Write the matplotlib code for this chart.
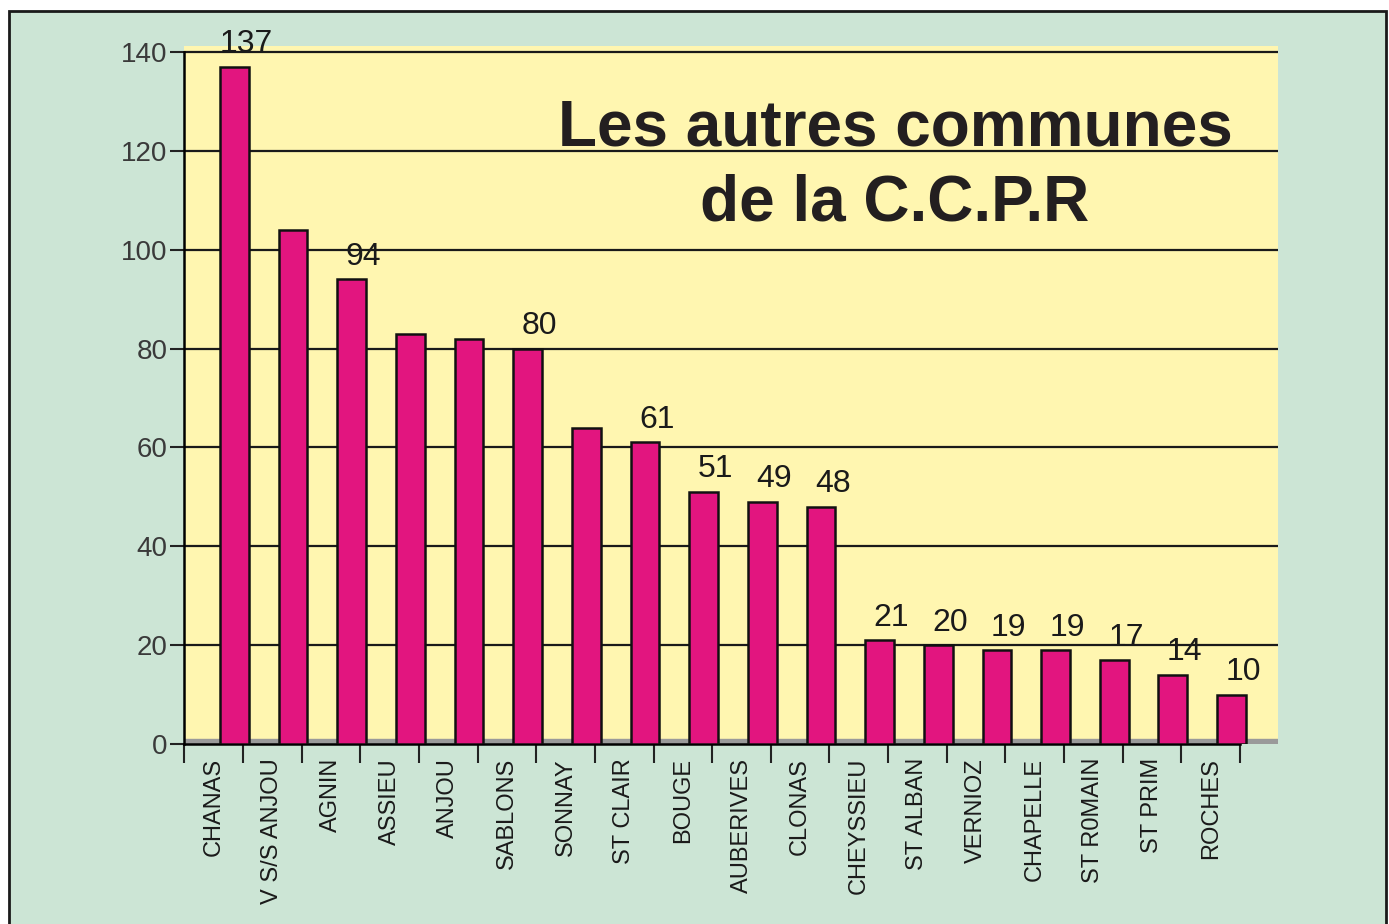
import matplotlib
matplotlib.use("Agg")
import matplotlib.pyplot as plt
from matplotlib.patches import Rectangle

communes = ["CHANAS", "V S/S ANJOU", "AGNIN", "ASSIEU", "ANJOU", "SABLONS",
            "SONNAY", "ST CLAIR", "BOUGE", "AUBERIVES", "CLONAS", "CHEYSSIEU",
            "ST ALBAN", "VERNIOZ", "CHAPELLE", "ST R0MAIN", "ST PRIM", "ROCHES"]
values = [137, 104, 94, 83, 82, 80, 64, 61, 51, 49, 48, 21, 20, 19, 19, 17, 14, 10]
shown_labels = [True, False, True, False, False, True, False, True, True, True,
                True, True, True, True, True, True, True, True]
yticks = [0, 20, 40, 60, 80, 100, 120, 140]

plt.rcParams['font.family'] = ['Liberation Sans', 'DejaVu Sans']

W, H = 1389, 924
fig = plt.figure(figsize=(W / 100, H / 100), dpi=100, facecolor="white")

# green panel with black frame
fig.patches.append(Rectangle((9 / W, -0.02), (1386 - 9) / W, 1 - 11 / H + 0.02,
                             transform=fig.transFigure, facecolor="#CCE5D5",
                             edgecolor="#1a1a1a", linewidth=2, zorder=-1))

left, right = 184.3 / W, 1278 / W
top, bottom = 1 - 46 / H, 1 - 744 / H
ax = fig.add_axes([left, bottom, right - left, top - bottom])
ax.set_facecolor("#FFF6B0")

slot_px = 58.65
xmax = (1278 - 184.3) / slot_px - 0.5
ax.set_xlim(-0.5, xmax)
ax.set_ylim(0, 141.2)

for y in yticks[1:]:
    ax.axhline(y, color="#1a1a1a", linewidth=1.6, zorder=1)
ax.axhspan(0, 1.1, color="#9a9a9a", zorder=1)

xs = list(range(len(communes)))
bar_x = [x + 0.355 for x in xs]
ax.bar(bar_x, values, width=0.49, color="#E2157F", edgecolor="#111111",
       linewidth=1.8, zorder=3)

for bx, v, s in zip(bar_x, values, shown_labels):
    if s:
        ax.text(bx + 0.2, v + 1.5, str(v), ha="center", va="bottom",
                fontsize=23, color="#1a1a1a", zorder=4)

ax.set_yticks(yticks)
ax.set_yticklabels([str(t) for t in yticks], fontsize=20, color="#3a3a3a")
ax.tick_params(axis="y", length=10, width=1.5, color="#222222", pad=2)

ax.set_xticks(xs)
ax.set_xticklabels(communes, rotation=90, fontsize=17, color="#1a1a1a",
                   va="top", ha="center")
ax.tick_params(axis="x", which="major", length=0, pad=10)
ax.set_xticks([x - 0.5 for x in range(len(communes) + 1)], minor=True)
ax.tick_params(axis="x", which="minor", length=14, width=1.5, color="#222222",
               direction="out")

for side in ("top", "right"):
    ax.spines[side].set_visible(False)
ax.spines["left"].set_linewidth(1.8)
ax.spines["left"].set_bounds(0, 140)
ax.spines["bottom"].set_linewidth(1.8)
ax.spines["bottom"].set_bounds(-0.5, len(communes) - 0.5)

fig.text(895 / W, 1 - 166 / H, "Les autres communes\nde la C.C.P.R",
         ha="center", va="center", fontsize=46, fontweight="bold",
         color="#231F20", linespacing=1.32)

fig.savefig("out.png", dpi=100, facecolor="white")
